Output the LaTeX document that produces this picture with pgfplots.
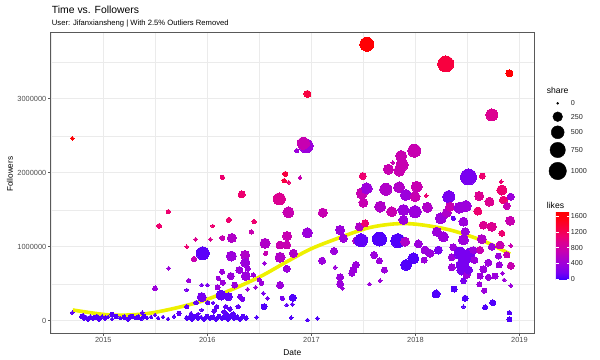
\documentclass[border=0pt]{standalone}
\usepackage{pgfplots}
\pgfplotsset{compat=1.18}
\usepackage{pgfplotstable}
\usepackage{fontspec}
\setmainfont{Liberation Sans}

\definecolor{gridc}{gray}{0.92}
\definecolor{framec}{gray}{0.35}
\definecolor{tickc}{gray}{0.30}
\definecolor{lineY}{RGB}{238,240,0}

\pgfplotsset{colormap={ggbr}{rgb255(0)=(64,0,255) rgb255(5)=(96,0,248) rgb255(10)=(122,0,240) rgb255(22)=(156,0,220) rgb255(32)=(176,0,200) rgb255(42)=(200,0,176) rgb255(55)=(220,0,144) rgb255(63)=(238,0,112) rgb255(75)=(248,0,64) rgb255(88)=(255,0,20) rgb255(100)=(255,0,0)}}

\pgfplotstableread{
x y likes share
2014.702 2465000 1680 14
2014.702 108000 80 14
2014.792 57000 45 22
2014.805 77000 50 14
2014.814 36000 45 22
2014.833 50000 40 14
2014.853 23000 45 22
2014.877 57000 50 14
2014.901 36000 45 22
2014.930 50000 40 22
2014.939 64000 50 14
2014.959 23000 45 22
2014.988 57000 45 14
2015.017 36000 60 22
2015.045 50000 45 14
2015.084 84000 50 22
2015.084 23000 45 14
2015.122 57000 40 22
2015.161 36000 45 14
2015.199 50000 50 22
2015.238 23000 45 22
2015.257 64000 60 14
2015.276 57000 45 22
2015.305 36000 50 14
2015.334 50000 45 22
2015.363 23000 40 14
2015.375 108000 90 14
2015.391 57000 45 22
2015.420 36000 45 14
2015.459 50000 50 14
2015.497 438000 380 30
2015.497 77000 90 14
2015.526 36000 45 14
2015.536 1280000 1090 30
2015.574 50000 50 14
2015.622 23000 45 14
2015.625 1473000 1090 22
2015.629 708000 380 14
2015.680 57000 50 14
2015.728 100000 90 22
2015.802 1000000 1090 14
2015.802 415000 170 14
2015.802 189000 90 22
2015.802 36000 45 22
2015.821 541000 380 22
2015.824 50000 50 14
2015.843 100000 90 14
2015.843 77000 45 14
2015.853 23000 45 22
2015.872 834000 720 38
2015.882 57000 50 22
2015.888 1100000 950 14
2015.891 243000 90 22
2015.911 91000 90 14
2015.911 36000 45 22
2015.939 50000 45 14
2015.946 482000 170 14
2015.946 320000 170 206
2015.946 145000 90 14
2015.956 911000 70 508
2015.968 23000 45 22
2015.997 57000 50 22
2016.000 482000 170 14
2016.004 243000 90 22
2016.026 36000 45 22
2016.029 1100000 950 14
2016.052 1280000 1090 14
2016.055 240000 90 14
2016.055 50000 50 22
2016.064 131000 80 22
2016.074 145000 80 14
2016.084 23000 45 22
2016.090 189000 90 22
2016.100 451000 380 38
2016.106 573000 380 22
2016.113 57000 50 22
2016.132 347000 90 269
2016.141 662000 380 38
2016.141 36000 45 22
2016.144 1938000 1090 22
2016.144 1118000 720 38
2016.148 514000 380 38
2016.160 118000 80 22
2016.170 50000 45 22
2016.177 189000 90 22
2016.189 77000 60 22
2016.199 23000 45 22
2016.202 324000 90 151
2016.206 1361000 1090 38
2016.218 158000 80 22
2016.225 604000 380 105
2016.228 57000 50 22
2016.231 874000 380 269
2016.235 1118000 550 206
2016.247 91000 60 22
2016.257 36000 45 22
2016.263 482000 380 67
2016.286 50000 50 22
2016.295 189000 90 22
2016.308 685000 380 105
2016.314 324000 170 38
2016.314 23000 45 22
2016.331 1708000 1090 105
2016.340 289000 170 22
2016.343 57000 50 22
2016.363 888000 550 206
2016.365 784000 380 206
2016.369 604000 380 206
2016.372 36000 45 22
2016.388 703000 380 38
2016.388 424000 380 14
2016.423 1199000 720 22
2016.442 618000 380 22
2016.449 1338000 1090 22
2016.465 451000 380 14
2016.475 46000 45 14
2016.500 550000 380 22
2016.523 505000 380 22
2016.538 370000 170 14
2016.545 189000 45 67
2016.548 776000 380 14
2016.555 1046000 550 269
2016.562 911000 720 22
2016.577 303000 170 14
2016.692 1645000 950 420
2016.699 1023000 720 151
2016.699 857000 550 269
2016.699 482000 380 105
2016.721 303000 170 22
2016.738 1892000 1300 22
2016.750 1983000 1300 38
2016.763 1023000 720 151
2016.763 703000 380 105
2016.763 212000 90 14
2016.766 1145000 720 206
2016.779 1465000 720 340
2016.783 1870000 1090 14
2016.805 41000 45 14
2016.817 222000 90 14
2016.821 311000 45 105
2016.827 911000 550 151
2016.860 2297000 380 22
2016.891 1933000 720 14
2016.949 2361000 380 605
2016.923 2397000 720 420
2016.962 3064000 1300 105
2016.962 1189000 380 269
2016.962 9000 45 14
2017.058 32000 45 14
2017.103 811000 380 105
2017.110 1460000 720 206
2017.218 942000 380 105
2017.228 722000 380 14
2017.276 1226000 380 206
2017.276 587000 380 105
2017.276 496000 380 105
2017.298 438000 380 14
2017.308 1114000 380 151
2017.388 641000 380 67
2017.404 685000 380 105
2017.427 753000 380 105
2017.437 1081000 550 151
2017.462 1270000 550 151
2017.478 1087000 90 508
2017.485 1722000 720 340
2017.494 1955000 1090 105
2017.500 1595000 720 206
2017.516 1316000 1090 105
2017.533 3735000 1680 605
2017.533 1789000 380 340
2017.558 496000 380 14
2017.603 888000 380 105
2017.654 1104000 45 605
2017.654 811000 380 67
2017.661 1541000 550 340
2017.661 541000 380 14
2017.702 685000 380 67
2017.715 1776000 550 420
2017.740 2046000 720 269
2017.773 1473000 720 269
2017.783 2135000 720 14
2017.831 1081000 45 605
2017.843 1803000 550 340
2017.846 2027000 720 340
2017.863 2226000 720 340
2017.872 2104000 720 420
2017.885 1496000 380 340
2017.885 1361000 380 206
2017.901 1068000 550 206
2017.908 1699000 380 340
2017.911 753000 45 340
2017.981 843000 45 340
2017.990 2297000 720 508
2017.997 1676000 720 269
2017.997 1473000 380 420
2018.013 1811000 720 340
2018.029 1037000 380 151
2018.084 820000 380 67
2018.093 955000 380 151
2018.103 1689000 1090 14
2018.115 1532000 550 269
2018.141 911000 380 151
2018.199 361000 45 151
2018.206 1203000 380 206
2018.221 955000 170 151
2018.244 1384000 380 340
2018.269 1135000 380 269
2018.292 3469000 1300 823
2018.302 1460000 550 206
2018.321 1676000 170 420
2018.334 1541000 720 206
2018.350 857000 380 105
2018.350 722000 380 105
2018.365 1384000 90 22
2018.365 992000 380 105
2018.372 428000 45 67
2018.423 1527000 380 340
2018.430 911000 170 420
2018.446 685000 170 269
2018.452 753000 170 420
2018.462 1338000 380 206
2018.462 1091000 380 269
2018.462 541000 170 67
2018.462 189000 45 14
2018.478 1203000 380 151
2018.478 843000 170 420
2018.478 303000 45 67
2018.485 1550000 380 340
2018.494 618000 380 105
2018.510 1942000 170 823
2018.510 685000 170 151
2018.526 919000 170 269
2018.558 955000 380 105
2018.567 820000 380 105
2018.600 1482000 1090 151
2018.613 1685000 950 206
2018.615 492000 380 38
2018.622 955000 720 105
2018.622 604000 380 67
2018.638 1104000 550 206
2018.644 1955000 1090 67
2018.654 1293000 950 151
2018.654 695000 380 105
2018.663 405000 380 38
2018.670 181000 45 38
2018.702 784000 380 105
2018.702 587000 380 67
2018.712 1608000 950 206
2018.735 2780000 950 420
2018.735 1270000 950 206
2018.735 1000000 380 105
2018.744 243000 45 67
2018.766 604000 380 67
2018.798 874000 380 67
2018.805 753000 380 67
2018.814 1023000 720 151
2018.824 1878000 1090 14
2018.831 1766000 1090 269
2018.831 1181000 1090 67
2018.837 641000 380 14
2018.846 1631000 1090 151
2018.853 550000 380 14
2018.879 1550000 720 105
2018.879 888000 720 67
2018.904 3343000 1680 105
2018.904 108000 45 22
2018.904 19000 45 38
2018.911 1351000 720 206
2018.917 1676000 380 105
2018.917 1014000 720 14
2018.917 743000 720 105
2018.917 473000 380 14
}\ptsdata

\pgfplotstableread{
x y
2014.706 145000
2015.064 77000
2015.382 90000
2015.641 154000
2015.930 257000
2016.187 392000
2016.507 595000
2016.763 797000
2016.987 965000
2017.209 1090000
2017.533 1249000
2017.788 1307000
2018.013 1303000
2018.333 1226000
2018.654 1077000
2018.910 901000
}\smoothdata

\pgfplotstableread{
x y share
10.7 256.7 0
10.7 243.3 250
10.7 227.7 500
10.7 210 750
10.7 189 1000
}\sizelegend

\begin{document}
\begin{tikzpicture}
\useasboundingbox (0,0) rectangle (600bp,360bp);
\begin{axis}[
  at={(50.7bp,27bp)}, anchor=south west, scale only axis,
  width=483.3bp, height=301bp,
  xmin=2014.494, xmax=2019.14, ymin=-166000, ymax=3901000,
  xtick={2015,2016,2017,2018,2019}, xticklabels={2015,2016,2017,2018,2019},
  ytick={0,1000000,2000000,3000000}, yticklabels={0,1000000,2000000,3000000},
  minor xtick={2014.5,2015.5,2016.5,2017.5,2018.5},
  minor ytick={500000,1500000,2500000,3500000},
  grid=both,
  major grid style={draw=gridc, line width=0.55bp},
  minor grid style={draw=gridc, line width=0.3bp},
  axis line style={draw=framec, line width=0.6bp},
  xtick pos=left, ytick pos=left,
  tick align=outside, major tick length=2.7bp, minor tick length=0pt,
  tick style={draw=framec, line width=0.5bp},
  ticklabel style={font=\fontsize{7.4bp}{8bp}\selectfont, text=tickc},
  xticklabel style={inner sep=1.5bp},
  yticklabel style={inner sep=1.5bp},
  scaled ticks=false,
  point meta min=0, point meta max=1725, colormap name=ggbr,
  colorbar,
  colorbar style={
    at={(parent axis.south east)}, anchor=south west, xshift=13.3bp, yshift=53.7bp,
    scale only axis, width=13.4bp, height=68.3bp,
    ytick={0,400,800,1200,1600}, yticklabels={0,400,800,1200,1600},
    axis line style={draw=none},
    major tick length=2.7bp, tick align=inside, ytick pos=both, yticklabel pos=right,
    ytick style={draw=white, line width=0.5bp},
    yticklabel style={font=\fontsize{7.2bp}{8bp}\selectfont, text=black!85, inner sep=1.5bp},
  },
]
\addplot[scatter, only marks, mark=*, point meta=\thisrow{likes},
  scatter/use mapped color={draw=mapped color, fill=mapped color, line width=0pt},
  visualization depends on={\thisrow{share} \as \sh},
  scatter/@pre marker code/.append style={/tikz/mark size={1.00375*(1+0.244*sqrt(\sh))}}]
  table[x=x,y=y] {\ptsdata};
\addplot[lineY, line width=3.6bp, smooth, no marks] table[x=x,y=y] {\smoothdata};
\end{axis}

\begin{axis}[at={(547bp,180bp)}, anchor=south west, scale only axis,
  width=30bp, height=90bp, xmin=0, xmax=30, ymin=180, ymax=270, hide axis, clip=false]
\addplot[scatter, only marks, mark=*, point meta=\thisrow{share},
  scatter/use mapped color={draw=black, fill=black},
  visualization depends on={\thisrow{share} \as \sh},
  scatter/@pre marker code/.append style={/tikz/mark size={1.00375*(1+0.244*sqrt(\sh))}}]
  table[x=x,y=y] {\sizelegend};
\foreach \yy/\lab in {256.7/0, 243.3/250, 227.7/500, 210/750, 189/1000} {
  \edef\temp{\noexpand\node[anchor=west, inner sep=0pt, font=\noexpand\fontsize{7.2bp}{8bp}\noexpand\selectfont, text=black!85] at (axis cs:23.7,\yy) {\lab};}
  \temp
}
\end{axis}

\node[anchor=base west, inner sep=0pt, font=\fontsize{10.4bp}{12bp}\selectfont] at (51.7bp,346.5bp) {Time vs. Followers};
\node[anchor=base west, inner sep=0pt, font=\fontsize{7.66bp}{9bp}\selectfont] at (51.7bp,334bp) {User: Jifanxiansheng | With 2.5\% Outliers Removed};
\node[inner sep=0pt, font=\fontsize{8.4bp}{10bp}\selectfont] at (292.3bp,7.3bp) {Date};
\node[rotate=90, inner sep=0pt, font=\fontsize{8.2bp}{10bp}\selectfont] at (10bp,185.8bp) {Followers};
\node[anchor=west, inner sep=0pt, font=\fontsize{8.6bp}{10bp}\selectfont] at (546.7bp,269.3bp) {share};
\node[anchor=west, inner sep=0pt, font=\fontsize{8.6bp}{10bp}\selectfont] at (546.7bp,155bp) {likes};
\end{tikzpicture}
\end{document}
